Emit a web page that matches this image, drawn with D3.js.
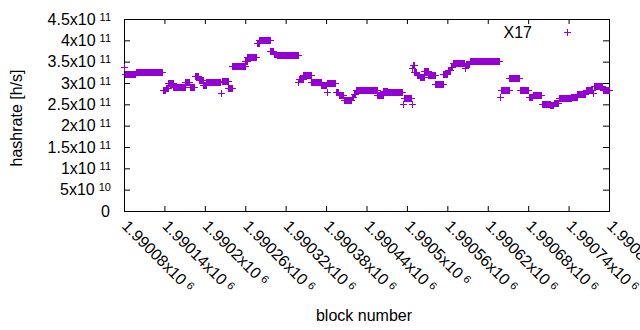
<!DOCTYPE html>
<html><head><meta charset="utf-8">
<script src="https://cdn.jsdelivr.net/npm/d3@7"></script>
<style>body{margin:0;background:#fff} text{font-family:"Liberation Sans",Arial,sans-serif;fill:#000}</style>
</head><body><svg id="c" width="640" height="330"></svg>
<script>
// ---- data ----
const seriesName = "X17";
const baseBlock = 1990080;
// runs of consecutive blocks with the same hashrate (offsets from baseBlock)
const runStart = [0,1,18,58,62,66,73,91,98,105,111,118,122,144,145,155,161,180,183,197,201,217,222,227,259,260,266,278,293,301,302,314,319,326,338,341,344,376,385,391,414,415,427,428,429,431,435,439,446,452,462,474,481,485,488,506,507,513,558,559,572,588,601,607,620,633,638,646,664,673,686,696,697,711];
const runEnd   = [0,17,57,61,65,72,90,97,104,110,117,121,143,144,154,160,179,182,196,200,216,221,226,258,259,265,277,292,300,301,313,318,325,337,340,343,375,384,390,413,414,426,427,428,430,434,438,445,451,461,473,480,484,487,505,506,512,557,558,571,587,600,606,619,632,637,645,663,672,685,695,696,710,720];
// hashrate in units of 1e11 h/s
const runValue = [3.37,3.22,3.25,2.84,2.88,2.99,2.91,3.02,2.91,3.16,3.08,2.96,3.02,2.76,3.04,2.89,3.40,3.51,3.62,3.94,4.00,3.74,3.68,3.65,3.02,3.10,3.18,3.02,2.95,2.78,2.99,2.80,2.72,2.60,2.68,2.74,2.83,2.71,2.81,2.78,2.50,2.66,2.51,3.36,3.42,3.26,3.19,3.14,3.29,3.19,2.97,3.20,3.30,3.38,3.46,3.34,3.45,3.51,2.67,2.83,3.11,2.84,2.68,2.72,2.51,2.48,2.53,2.65,2.67,2.74,2.84,2.76,2.94,2.84];

const xTickValues = [1990080,1990140,1990200,1990260,1990320,1990380,1990440,1990500,1990560,1990620,1990680,1990740,1990800];
const xTickMantissa = ["1.99008","1.99014","1.9902","1.99026","1.99032","1.99038","1.99044","1.9905","1.99056","1.99062","1.99068","1.99074","1.9908"];
const xTickExp = "6";
const yTickValues = [0,0.5e11,1e11,1.5e11,2e11,2.5e11,3e11,3.5e11,4e11,4.5e11];
const yTickMantissa = ["0","5","1","1.5","2","2.5","3","3.5","4","4.5"];
const yTickExp = ["","10","11","11","11","11","11","11","11","11"];

// ---- layout ----
const L = 124, R = 609, T = 19, B = 211;
const FS = "16px", SUP = "11px";
const svg = d3.select("#c");
const x = d3.scaleLinear().domain([1990080, 1990800]).range([L, R]);
const y = d3.scaleLinear().domain([0, 4.5e11]).range([B, T]);

const points = [];
runStart.forEach((s, i) => {
  for (let b = s; b <= runEnd[i]; b++) points.push({b: baseBlock + b, v: runValue[i] * 1e11});
});

// axes (inward ticks, mirrored)
const tk = 5;
const gB = svg.append("g").attr("transform", `translate(0,${B})`)
  .call(d3.axisBottom(x).tickValues(xTickValues).tickSize(-tk).tickFormat(""));
const gT = svg.append("g").attr("transform", `translate(0,${T})`)
  .call(d3.axisTop(x).tickValues(xTickValues).tickSize(-tk).tickFormat(""));
const gL = svg.append("g").attr("transform", `translate(${L},0)`)
  .call(d3.axisLeft(y).tickValues(yTickValues).tickSize(-6).tickFormat(""));
const gR = svg.append("g").attr("transform", `translate(${R},0)`)
  .call(d3.axisRight(y).tickValues(yTickValues).tickSize(-6).tickFormat(""));
[gB, gT, gL, gR].forEach(g => { g.select(".domain").remove(); g.selectAll("line").attr("stroke", "#000"); });

svg.append("rect").attr("x", L + 0.5).attr("y", T + 0.5).attr("width", R - L).attr("height", B - T)
  .attr("fill", "none").attr("stroke", "#000").attr("stroke-width", 1);

// y tick labels
yTickValues.forEach((v, i) => {
  const t = svg.append("text").attr("x", 111).attr("y", y(v) + 5.5)
    .attr("text-anchor", "end").style("font-size", FS);
  if (yTickExp[i]) {
    t.append("tspan").text(yTickMantissa[i] + "x10");
    t.append("tspan").attr("dx", 4).attr("dy", -4).style("font-size", SUP).text(yTickExp[i]);
  } else {
    t.append("tspan").attr("dx", -1).text(yTickMantissa[i]);
  }
});

// x tick labels (rotated)
xTickValues.forEach((v, i) => {
  const t = svg.append("text")
    .attr("transform", `translate(${x(v) - 3},${227}) rotate(45)`)
    .style("font-size", FS);
  t.append("tspan").text(xTickMantissa[i] + "x10");
  t.append("tspan").attr("dx", 4).attr("dy", -4).style("font-size", SUP).text(xTickExp);
});

// axis titles
svg.append("text").attr("transform", `translate(22,118) rotate(-90)`).attr("text-anchor", "middle")
  .style("font-size", FS).text("hashrate [h/s]");
svg.append("text").attr("x", 364).attr("y", 321).attr("text-anchor", "middle")
  .style("font-size", FS).text("block number");

// points
const color = "#9400d3";
const plus = "M-3,0.5H4M0.5,-3V4";
svg.append("g").selectAll("path").data(points).join("path")
  .attr("transform", d => `translate(${Math.round(x(d.b))},${Math.round(y(d.v))})`)
  .attr("d", plus).attr("fill", "none").attr("stroke", color).attr("stroke-width", 1)
  .attr("shape-rendering", "crispEdges");

// legend
svg.append("text").attr("x", 532).attr("y", 37.5).attr("text-anchor", "end")
  .style("font-size", FS).text(seriesName);
svg.append("path").attr("transform", "translate(567,32)").attr("d", plus)
  .attr("fill", "none").attr("stroke", color).attr("shape-rendering", "crispEdges");
</script></body></html>
